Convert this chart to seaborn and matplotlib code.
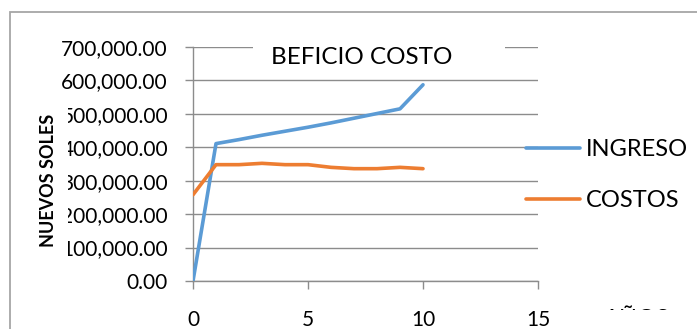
import matplotlib
matplotlib.use("Agg")
import matplotlib.pyplot as plt
from matplotlib.patches import Rectangle
from matplotlib.ticker import FuncFormatter
import seaborn as sns
import pandas as pd

# Años del proyecto y flujos en nuevos soles
anios = [0, 1, 2, 3, 4, 5, 6, 7, 8, 9, 10]
ingreso = [0, 411000, 423000, 436000, 448000, 460000, 473000, 487000, 501000, 515000, 587000]
costos = [258000, 348000, 348000, 352000, 348000, 348000, 340000, 336000, 336000, 340000, 336000]
series = ["INGRESO", "COSTOS"]
colores = ["#5B9BD5", "#ED7D31"]
x_ticks = [0, 5, 10, 15]
y_ticks = [0, 100000, 200000, 300000, 400000, 500000, 600000, 700000]

df = pd.DataFrame({
    "Año": anios * 2,
    "Monto": ingreso + costos,
    "Serie": [series[0]] * len(anios) + [series[1]] * len(anios),
})

sns.set_theme(style="white")
plt.rcParams["font.family"] = ["Lato", "DejaVu Sans"]

W, H = 697, 329
fig = plt.figure(figsize=(W / 100, H / 100), dpi=100)
fig.patch.set_facecolor("white")

x0, x1, y_top, y_bot = 193, 538, 47, 281
ax = fig.add_axes([x0 / W, (H - y_bot) / H, (x1 - x0) / W, (y_bot - y_top) / H])

lw = 2.6
sns.lineplot(data=df, x="Año", y="Monto", hue="Serie", hue_order=series,
             palette=colores, linewidth=lw, ax=ax, legend=False,
             solid_joinstyle="round", solid_capstyle="round", zorder=3)

ax.set_xlim(0, 15)
ax.set_ylim(0, 700000)
ax.set_xticks(x_ticks)
ax.set_yticks(y_ticks)
ax.yaxis.set_major_formatter(FuncFormatter(lambda v, p: f"{v:,.2f}"))
ax.set_xlabel("")
ax.set_ylabel("")

grid_c = "#8c8c8c"
ax.grid(axis="y", color=grid_c, linewidth=1.0)
ax.grid(axis="x", visible=False)
for s in ["top", "right"]:
    ax.spines[s].set_visible(False)
for s in ["left", "bottom"]:
    ax.spines[s].set_color(grid_c)
    ax.spines[s].set_linewidth(1.0)
ax.tick_params(axis="y", length=6, width=1.0, color=grid_c, pad=12,
               labelsize=15, labelcolor="black", left=True)
ax.tick_params(axis="x", length=6, width=1.0, color=grid_c, pad=15,
               labelsize=15, labelcolor="black", bottom=True)
ax.set_facecolor("white")

# Leyenda a la derecha del área de trazado
handles = [plt.Line2D([], [], color=c, linewidth=lw, solid_capstyle="round") for c in colores]
leg = ax.legend(handles, series, loc="upper left", bbox_to_anchor=(0.965, 0.605),
                frameon=False, fontsize=17, handlelength=2.3, handletextpad=0.25,
                labelspacing=1.25, borderpad=0, borderaxespad=0)
for t in leg.get_texts():
    t.set_color("black")

# Fondo blanco del título sobre la línea de cuadrícula superior
fig.patches.append(Rectangle((253 / W, (H - 78) / H), (505 - 253) / W, 40 / H,
                             transform=fig.transFigure, facecolor="white",
                             edgecolor="none", zorder=2))
fig.text(362 / W, (H - 58) / H, "BEFICIO COSTO", ha="center", va="center",
         fontsize=17.5, color="black", zorder=4)

# Título del eje vertical
fig.text(48 / W, (H - 180) / H, "NUEVOS SOLES", rotation=90, ha="center",
         va="center", fontsize=13, fontweight="bold", color="black", zorder=5,
         bbox=dict(facecolor="white", edgecolor="none", pad=8))

# Título del eje horizontal; el borde inferior del gráfico lo corta
fig.text(604 / W, (H - 326) / H, "AÑOS", ha="left", va="baseline",
         fontsize=17, color="black", zorder=5)
fig.patches.append(Rectangle((590 / W, 0), (W - 590) / W, (H - 310) / H,
                             transform=fig.transFigure, facecolor="white",
                             edgecolor="none", zorder=6))

# Marco exterior del gráfico
fig.patches.append(Rectangle((10 / W, -0.1), 1.0, (H - 12) / H + 0.1,
                             transform=fig.transFigure, facecolor="none",
                             edgecolor="#a6a6a6", linewidth=1.3, zorder=1))

fig.savefig("out.png", dpi=100)
